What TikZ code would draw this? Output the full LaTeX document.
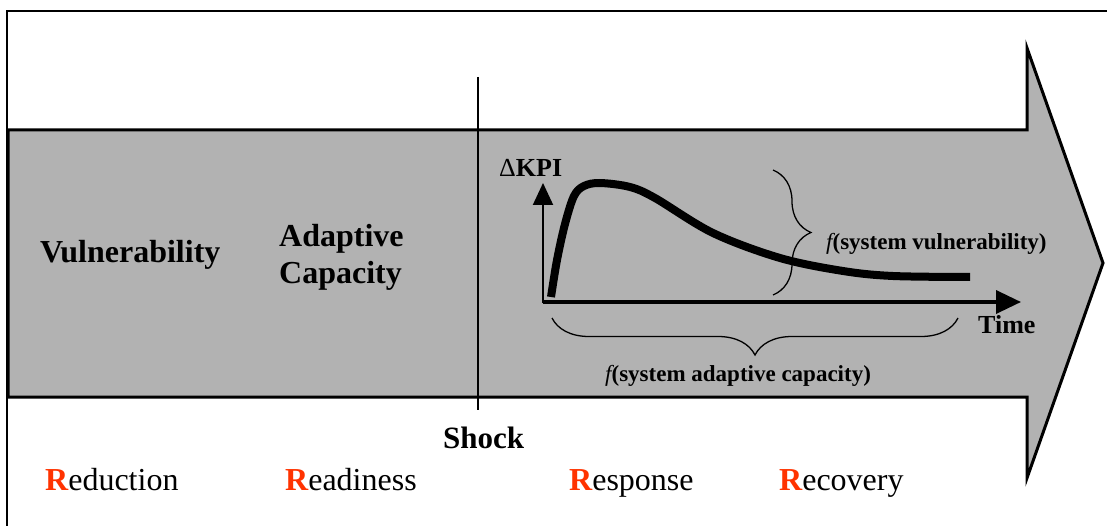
\documentclass[tikz,border=0pt]{standalone}
\usepackage{fontspec}
\setmainfont{Liberation Serif}
\usetikzlibrary{arrows.meta,positioning,decorations.pathreplacing}
\definecolor{bandgray}{HTML}{B2B2B2}
\definecolor{rred}{HTML}{FF3300}
\newcommand{\rword}[1]{{\color{rred}\bfseries R}#1}

\begin{document}
\begin{tikzpicture}[x=1pt, y=-1pt, every node/.style={inner sep=0pt, anchor=base west},
    bigbold/.style={font=\fontsize{32}{37}\selectfont\bfseries},
    rlabel/.style={font=\fontsize{32}{37}\selectfont},
    axlabel/.style={font=\fontsize{26}{30}\selectfont\bfseries},
    fnlabel/.style={font=\fontsize{23}{27}\selectfont\bfseries},
    bracket/.style={decorate, decoration={brace, amplitude=38pt}, line width=1.3pt}]
  \useasboundingbox (0,0) rectangle (1107,526);
  % frame and big arrow
  \draw[line width=2.5pt] (1107,11) -- (7,11) -- (7,526);
  \draw[fill=bandgray, line width=3pt] (8,130) -- (1027,130) -- (1027,48) -- (1103,263)
    -- (1027,478) -- (1027,397) -- (8,397) -- cycle;
  \coordinate (shocktop) at (478,77);
  \coordinate (shockbot) at (478,410);
  \draw[line width=1.2pt] (shocktop) -- (shockbot);
  % left labels
  \node[bigbold] (vuln) at (40,263) {Vulnerability};
  \node[bigbold, anchor=west, align=left] (adapt) at (279,257) {Adaptive\\Capacity};
  \node[bigbold, font=\fontsize{31}{36}\selectfont\bfseries] (shock) at (443,448) {Shock};
  % the four R
  \node[rlabel] (reduction) at (45,490) {\rword{eduction}};
  \node[rlabel] (readiness) at (285,490) {\rword{eadiness}};
  \node[rlabel] (response) at (569,490) {\rword{esponse}};
  \node[rlabel] (recovery) at (779,490) {\rword{ecovery}};
  % KPI plot
  \coordinate (origin) at (543,302);
  \coordinate (ytip) at (543,183);
  \coordinate (xtip) at (1021,302);
  \draw[line width=2pt, -{Triangle[length=22pt, width=20pt]}] ([yshift=-1pt]origin) -- (ytip);
  \draw[line width=3.5pt, -{Triangle[length=25pt, width=23pt]}] (origin) -- (xtip);
  \node[axlabel] (kpi) at (499,177) {{\mdseries Δ}KPI};
  \node[axlabel] (time) at (978,333) {Time};
  \draw[line width=8pt, line join=round] plot[smooth, tension=0.55] coordinates {(551,297) (557,260) (565,224)
    (574,196) (584,186) (600,183) (630,187) (655,198) (713,233) (780,258) (843,271) (893,276) (970,277)};
  % braces
  \coordinate (vbtop) at (773,170);
  \coordinate (vbbot) at (773,295);
  \coordinate (hbleft) at (552,318);
  \coordinate (hbright) at (958,318);
  \draw[bracket] (vbtop) -- (vbbot);
  \draw[bracket, decoration={amplitude=37pt}] (hbright) -- (hbleft);
  \node[fnlabel] (fvuln) at (826,250) {{\mdseries\itshape f}(system vulnerability)};
  \node[fnlabel] (fadapt) at (605,381) {{\mdseries\itshape f}(system adaptive capacity)};
\end{tikzpicture}
\end{document}
